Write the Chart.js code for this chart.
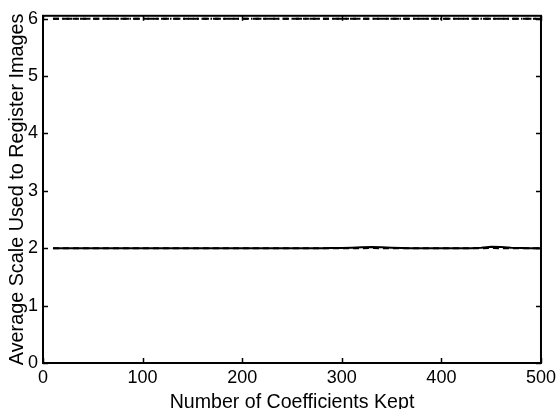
<!DOCTYPE html>
<html>
<head>
<meta charset="utf-8">
<script src="https://cdn.jsdelivr.net/npm/chart.js@4"></script>
<style>
  html, body { margin: 0; padding: 0; background: #fff; }
  #wrap { width: 560px; height: 409px; }
</style>
</head>
<body>
<div id="wrap"><canvas id="c" width="560" height="409"></canvas></div>
<script>
// Number of coefficients kept
const coefficients = [10, 20, 30, 40, 50, 60, 70, 80, 90, 100,
  110, 120, 130, 140, 150, 160, 170, 180, 190, 200,
  210, 220, 230, 240, 250, 260, 270, 280, 290, 300,
  310, 320, 330, 340, 350, 360, 370, 380, 390, 400,
  410, 420, 430, 440, 450, 460, 470, 480, 490, 500];

// Average registration scale, lower pair of methods
const scaleSolid = [2.00, 2.00, 2.00, 2.00, 2.00, 2.00, 2.00, 2.00, 2.00, 2.00,
  2.00, 2.00, 2.00, 2.00, 2.00, 2.00, 2.00, 2.00, 2.00, 2.00,
  2.00, 2.00, 2.00, 2.00, 2.00, 2.00, 2.00, 2.00, 2.005, 2.005,
  2.01, 2.015, 2.02, 2.015, 2.01, 2.005, 2.00, 2.00, 2.00, 2.00,
  2.00, 2.00, 2.00, 2.01, 2.025, 2.02, 2.01, 2.005, 2.00, 2.00];
const scaleDashed = [2.00, 2.00, 2.00, 2.00, 2.00, 2.00, 2.00, 2.00, 2.00, 2.00,
  2.00, 2.00, 2.00, 2.00, 2.00, 2.00, 2.00, 2.00, 2.00, 2.00,
  2.00, 2.00, 2.00, 2.00, 2.00, 2.00, 2.00, 2.00, 2.00, 2.00,
  2.00, 2.00, 2.005, 2.00, 2.00, 2.00, 2.00, 2.00, 2.00, 2.00,
  2.00, 2.00, 2.00, 2.00, 2.005, 2.00, 2.00, 2.00, 2.00, 2.00];

// Average registration scale, upper pair of methods
const scaleUpperDashed = [6.00, 6.00, 6.00, 6.00, 6.00, 6.00, 6.00, 6.00, 6.00, 6.00,
  6.00, 6.00, 6.00, 6.00, 6.00, 6.00, 6.00, 6.00, 6.00, 6.00,
  6.00, 6.00, 6.00, 6.00, 6.00, 6.00, 6.00, 6.00, 6.00, 6.00,
  6.00, 6.00, 6.00, 6.00, 6.00, 6.00, 6.00, 6.00, 6.00, 6.00,
  6.00, 6.00, 6.00, 6.00, 6.00, 6.00, 6.00, 6.00, 6.00, 6.00];
const scaleUpperDashDot = [6.00, 6.00, 6.00, 6.00, 6.00, 6.00, 6.00, 6.00, 6.00, 6.00,
  6.00, 6.00, 6.00, 6.00, 6.00, 6.00, 6.00, 6.00, 6.00, 6.00,
  6.00, 6.00, 6.00, 6.00, 6.00, 6.00, 6.00, 6.00, 6.00, 6.00,
  6.00, 6.00, 6.00, 6.00, 6.00, 6.00, 6.00, 6.00, 6.00, 6.00,
  6.00, 6.00, 6.00, 6.00, 6.00, 6.00, 6.00, 6.00, 6.00, 6.00];

const xTicks = [0, 100, 200, 300, 400, 500];
const yTicks = [0, 1, 2, 3, 4, 5, 6];

const toPoints = (ys) => coefficients.map((x, i) => ({ x: x, y: ys[i] }));

const FONT = '"Liberation Sans", Arial, Helvetica, sans-serif';

// Box around the axes with inward-pointing tick marks on all four sides
const axesBox = {
  id: 'axesBox',
  afterDatasetsDraw(chart) {
    const { ctx, chartArea: a, scales } = chart;
    const len = 5;
    ctx.save();
    ctx.strokeStyle = '#000';
    ctx.lineWidth = 2;
    ctx.strokeRect(a.left, a.top, a.right - a.left, a.bottom - a.top);
    ctx.lineWidth = 1.5;
    ctx.beginPath();
    xTicks.forEach(v => {
      const px = Math.round(scales.x.getPixelForValue(v)) + 0.5;
      ctx.moveTo(px, a.bottom); ctx.lineTo(px, a.bottom - len);
      ctx.moveTo(px, a.top); ctx.lineTo(px, a.top + len);
    });
    yTicks.forEach(v => {
      const py = Math.round(scales.y.getPixelForValue(v)) + 0.5;
      ctx.moveTo(a.left, py); ctx.lineTo(a.left + len, py);
      ctx.moveTo(a.right, py); ctx.lineTo(a.right - len, py);
    });
    ctx.stroke();
    ctx.restore();
  }
};

new Chart(document.getElementById('c'), {
  type: 'line',
  data: {
    datasets: [
      { data: toPoints(scaleSolid), borderColor: '#000', borderWidth: 2 },
      { data: toPoints(scaleDashed), borderColor: '#000', borderWidth: 2, borderDash: [6, 4] },
      { data: toPoints(scaleUpperDashed), borderColor: '#000', borderWidth: 2, borderDash: [6, 4] },
      { data: toPoints(scaleUpperDashDot), borderColor: '#000', borderWidth: 2, borderDash: [6, 3, 1.5, 3] }
    ]
  },
  options: {
    responsive: false,
    animation: false,
    events: [],
    layout: { padding: { top: 11, right: 16, left: 0, bottom: 0 } },
    elements: { point: { radius: 0 }, line: { tension: 0, fill: false } },
    plugins: { legend: { display: false }, tooltip: { enabled: false } },
    scales: {
      x: {
        type: 'linear',
        min: 0,
        max: 500,
        grid: { display: false, drawTicks: false },
        border: { display: false },
        afterBuildTicks: (s) => { s.ticks = xTicks.map(v => ({ value: v })); },
        afterFit: (s) => { s.height = 46; },
        ticks: {
          color: '#000',
          padding: 4,
          maxRotation: 0,
          font: { family: FONT, size: 18 },
          callback: (v) => String(v)
        },
        title: {
          display: true,
          text: 'Number of Coefficients Kept',
          color: '#000',
          font: { family: FONT, size: 19.6, lineHeight: 1 },
          padding: { top: 0, bottom: -3.5 }
        }
      },
      y: {
        type: 'linear',
        min: 0,
        max: 6.05,
        grid: { display: false, drawTicks: false },
        border: { display: false },
        afterBuildTicks: (s) => { s.ticks = yTicks.map(v => ({ value: v })); },
        afterFit: (s) => { s.width = 43; },
        ticks: {
          color: '#000',
          padding: 5,
          font: { family: FONT, size: 18 },
          callback: (v) => String(v)
        },
        title: {
          display: true,
          text: 'Average Scale Used to Register Images',
          color: '#000',
          font: { family: FONT, size: 19.8, lineHeight: 1 },
          padding: { top: 8, bottom: 0 }
        }
      }
    }
  },
  plugins: [axesBox]
});
</script>
</body>
</html>
